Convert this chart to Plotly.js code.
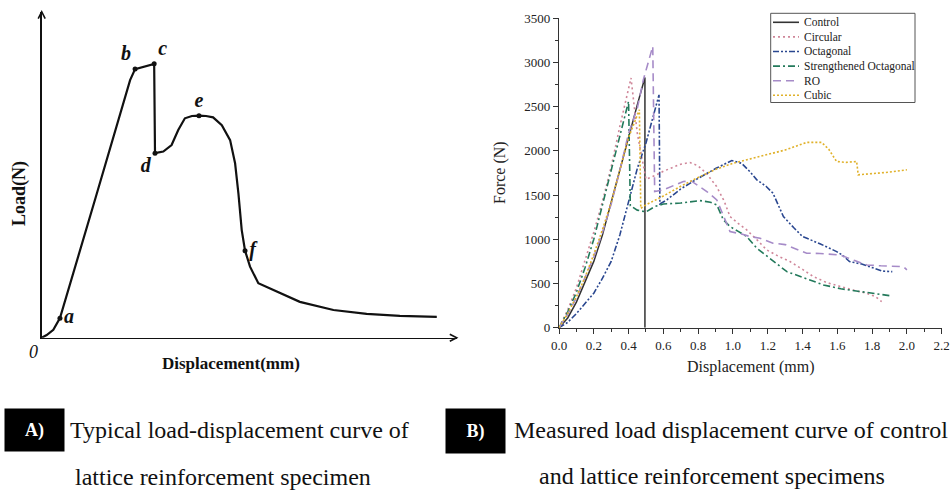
<!DOCTYPE html>
<html><head><meta charset="utf-8">
<script src="https://cdn.plot.ly/plotly-3.0.1.min.js"></script>
<style>html,body{margin:0;padding:0;background:#fff;}#chart{width:951px;height:493px;}</style>
</head><body><div id="chart"></div>
<script>
// ---------- Panel A: typical (schematic) curve, arbitrary units ----------
const typX = [0, 0.12, 0.28, 0.44, 1.3, 2.13, 2.25, 2.71, 2.73, 2.93, 3.13, 3.29, 3.45, 3.62, 3.79, 3.96, 4.13, 4.34, 4.54, 4.66, 4.74, 4.82, 4.90, 5.02, 5.22, 5.66, 6.22, 7.03, 7.83, 8.63, 9.52];
const typY = [0, 0.08, 0.24, 0.60, 4.30, 7.90, 8.24, 8.40, 5.66, 5.71, 5.91, 6.37, 6.73, 6.80, 6.81, 6.80, 6.76, 6.52, 6.06, 5.35, 4.43, 3.30, 2.67, 2.18, 1.67, 1.41, 1.10, 0.85, 0.73, 0.67, 0.64];
const keyLabels = ['a', 'b', 'c', 'd', 'e', 'f'];
const keyX = [0.44, 2.25, 2.71, 2.73, 3.79, 4.90];
const keyY = [0.60, 8.24, 8.40, 5.66, 6.81, 2.67];
const keyPos = ['middle right', 'top left', 'top right', 'bottom left', 'top center', 'middle right'];

// ---------- Panel B: measured curves ----------
const seriesNames = ['Control', 'Circular', 'Octagonal', 'Strengthened Octagonal', 'RO', 'Cubic'];
const controlX = [0, 0.05, 0.1, 0.15, 0.2, 0.25, 0.3, 0.35, 0.4, 0.45, 0.494, 0.494];
const controlY = [0, 110, 290, 510, 750, 1050, 1420, 1780, 2170, 2520, 2830, 0];
const circularX = [0, 0.05, 0.1, 0.15, 0.2, 0.25, 0.3, 0.35, 0.414, 0.45, 0.5, 0.55, 0.6, 0.65, 0.7, 0.753, 0.8, 0.85, 0.906, 0.95, 0.983, 1.03, 1.079, 1.14, 1.194, 1.26, 1.328, 1.4, 1.462, 1.54, 1.615, 1.7, 1.77, 1.82, 1.855];
const circularY = [0, 200, 450, 760, 1080, 1430, 1820, 2280, 2825, 2200, 1680, 1720, 1770, 1810, 1850, 1869, 1830, 1740, 1597, 1430, 1257, 1180, 1106, 990, 880, 810, 748, 660, 578, 510, 464, 420, 390, 350, 295];
const octX = [0, 0.05, 0.1, 0.15, 0.2, 0.25, 0.3, 0.35, 0.4, 0.45, 0.5, 0.55, 0.575, 0.58, 0.62, 0.7, 0.8, 0.9, 0.993, 1.05, 1.1, 1.137, 1.19, 1.23, 1.29, 1.35, 1.40, 1.5, 1.596, 1.63, 1.67, 1.74, 1.807, 1.86, 1.916];
const octY = [0, 60, 160, 270, 390, 560, 750, 1050, 1410, 1800, 2090, 2450, 2634, 1400, 1446, 1570, 1690, 1800, 1891, 1860, 1760, 1673, 1600, 1522, 1257, 1130, 1031, 950, 861, 820, 748, 720, 673, 640, 634];
const sOctX = [0, 0.05, 0.1, 0.15, 0.2, 0.25, 0.3, 0.35, 0.40, 0.41, 0.45, 0.5, 0.55, 0.6, 0.7, 0.81, 0.87, 0.907, 0.945, 0.983, 1.03, 1.079, 1.137, 1.2, 1.31, 1.4, 1.52, 1.62, 1.73, 1.82, 1.90];
const sOctY = [0, 180, 400, 680, 1000, 1380, 1780, 2170, 2560, 1380, 1330, 1310, 1370, 1400, 1410, 1438, 1420, 1390, 1220, 1144, 1090, 1031, 899, 800, 634, 570, 484, 440, 408, 390, 363];
const roX = [0, 0.05, 0.1, 0.15, 0.2, 0.25, 0.3, 0.35, 0.4, 0.45, 0.485, 0.539, 0.55, 0.6, 0.65, 0.715, 0.76, 0.8, 0.85, 0.907, 0.95, 0.983, 1.05, 1.1, 1.156, 1.23, 1.3, 1.424, 1.5, 1.615, 1.7, 1.77, 1.85, 1.98, 2.0];
const roY = [0, 150, 340, 560, 800, 1080, 1400, 1780, 2200, 2480, 2806, 3183, 1540, 1560, 1600, 1654, 1660, 1610, 1540, 1446, 1250, 1087, 1060, 1030, 1012, 956, 940, 842, 840, 823, 760, 710, 700, 691, 655];
const cubicX = [0, 0.05, 0.1, 0.15, 0.2, 0.25, 0.3, 0.35, 0.4, 0.462, 0.47, 0.5, 0.6, 0.7, 0.8, 0.9, 1.0, 1.1, 1.2, 1.3, 1.424, 1.51, 1.55, 1.596, 1.65, 1.711, 1.72, 1.8, 1.9, 2.0];
const cubicY = [0, 160, 350, 570, 830, 1110, 1420, 1770, 2150, 2466, 1350, 1390, 1490, 1600, 1700, 1790, 1860, 1910, 1960, 2010, 2096, 2096, 2020, 1880, 1870, 1880, 1730, 1740, 1760, 1786];
const xTickVals = [0, 0.2, 0.4, 0.6, 0.8, 1.0, 1.2, 1.4, 1.6, 1.8, 2.0, 2.2];
const yTickVals = [0, 500, 1000, 1500, 2000, 2500, 3000, 3500];

const serif = 'Liberation Serif, Times New Roman, serif';
const W = 951, H = 493;
const px = v => v / W, py = v => 1 - v / H;

const seriesX = [controlX, circularX, octX, sOctX, roX, cubicX];
const seriesY = [controlY, circularY, octY, sOctY, roY, cubicY];
const colors = ['#333333', '#cf8699', '#2a4790', '#23795b', '#a68bc8', '#e0b12a'];
const dashes = ['solid', '2px,3px', '6px,2px,2px,2px,2px,2px', '7px,3px,2px,3px', '8px,5px', '2px,2px'];

const traces = [];
traces.push({x: typX, y: typY, xaxis: 'x', yaxis: 'y', mode: 'lines', line: {color: '#111', width: 2.2}, showlegend: false, hoverinfo: 'skip'});
traces.push({x: keyX, y: keyY, xaxis: 'x', yaxis: 'y', mode: 'markers+text', text: keyLabels, textposition: keyPos,
  marker: {color: '#111', size: 5}, textfont: {family: serif, size: 20, color: '#111', weight: 'bold', style: 'italic'}, showlegend: false, cliponaxis: false});
for (let i = 0; i < seriesNames.length; i++) {
  traces.push({x: seriesX[i], y: seriesY[i], xaxis: 'x2', yaxis: 'y2', mode: 'lines', name: seriesNames[i], showlegend: false,
    line: {color: colors[i], width: i === 0 ? 1.5 : 1.6, dash: dashes[i]}});
}

const ann = (text, x, y, size, extra) => Object.assign({text: text, xref: 'paper', yref: 'paper', x: px(x), y: py(y), xanchor: 'center', yanchor: 'middle',
  showarrow: false, font: {family: serif, size: size, color: '#111'}}, extra || {});

const shapes = [
  {type: 'path', xref: 'paper', yref: 'paper', path: `M ${px(38.2)} ${py(18.6)} L ${px(41.7)} ${py(11.7)} L ${px(45.2)} ${py(18.6)}`, line: {color: '#111', width: 1.6}},
  {type: 'path', xref: 'paper', yref: 'paper', path: `M ${px(449.8)} ${py(334.2)} L ${px(456.7)} ${py(337.7)} L ${px(449.8)} ${py(341.2)}`, line: {color: '#111', width: 1.6}},
  // legend frame
  {type: 'rect', xref: 'paper', yref: 'paper', x0: px(770.7), x1: px(915), y0: py(102.5), y1: py(13.3), line: {color: '#555', width: 1}, fillcolor: 'rgba(255,255,255,0)'}
];
const annotations = [
  ann('<i>0</i>', 33, 352, 18),
  ann('<b>Displacement(mm)</b>', 231, 363, 17),
  ann('<b>Load(N)</b>', 19, 194, 18, {textangle: -90}),
  ann('Displacement (mm)', 751, 367, 16, {font: {family: serif, size: 16, color: '#222'}}),
  ann('Force (N)', 500, 172, 16, {textangle: -90, font: {family: serif, size: 16, color: '#222'}}),
  ann('<b>A)</b>', 34.5, 430, 18, {width: 59, height: 42, bgcolor: '#000', borderpad: 0, font: {family: serif, size: 18, color: '#fff'}}),
  ann('<b>B)</b>', 475.5, 430.5, 18, {width: 59, height: 44, bgcolor: '#000', borderpad: 0, font: {family: serif, size: 18, color: '#fff'}}),
  ann('Typical load-displacement curve of', 68, 430, 24, {xanchor: 'left'}),
  ann('lattice reinforcement specimen', 223, 477, 24),
  ann('Measured load displacement curve of control', 512, 430, 24, {xanchor: 'left'}),
  ann('and lattice reinforcement specimens', 712, 476, 24)
];
// legend entries (sample line + name) for panel B
for (let i = 0; i < seriesNames.length; i++) {
  const yy = 22.3 + i * 14.6;
  shapes.push({type: 'line', xref: 'paper', yref: 'paper', x0: px(773), x1: px(799), y0: py(yy), y1: py(yy),
    line: {color: colors[i], width: 1.6, dash: dashes[i]}});
  annotations.push(ann(seriesNames[i], 801.5, yy, 11.5, {xanchor: 'left', font: {family: serif, size: 11.5, color: '#222'}}));
}

const axA = {showgrid: false, zeroline: false, showticklabels: false, ticks: '', showline: true, linecolor: '#111', linewidth: 1.6, fixedrange: true};
const tickFont = {family: serif, size: 13, color: '#222'};
const layout = {
  width: W, height: H, margin: {l: 0, r: 0, t: 0, b: 0}, paper_bgcolor: '#fff', plot_bgcolor: '#fff', showlegend: false,
  xaxis: Object.assign({}, axA, {domain: [px(41.7), px(456.7)], range: [0, 10], anchor: 'y'}),
  yaxis: Object.assign({}, axA, {domain: [py(337.7), py(11.7)], range: [0, 10], anchor: 'x'}),
  xaxis2: {domain: [px(559), px(941.7)], range: [0, 2.2], anchor: 'y2', tickvals: xTickVals, tickformat: '.1f', ticks: 'outside', ticklen: 5,
    tickcolor: '#333', showline: true, linecolor: '#333', linewidth: 1.2, showgrid: false, zeroline: false, tickfont: tickFont,
    minor: {ticks: 'outside', dtick: 0.1, ticklen: 3, tickcolor: '#333'}},
  yaxis2: {domain: [py(327.7), py(18.3)], range: [0, 3500], anchor: 'x2', tickvals: yTickVals, ticks: 'outside', ticklen: 5,
    tickcolor: '#333', showline: true, linecolor: '#333', linewidth: 1.2, showgrid: false, zeroline: false, tickfont: tickFont,
    minor: {ticks: 'outside', dtick: 250, ticklen: 3, tickcolor: '#333'}},
  shapes: shapes,
  annotations: annotations
};
Plotly.newPlot('chart', traces, layout, {displayModeBar: false, staticPlot: true});
</script>
</body></html>
